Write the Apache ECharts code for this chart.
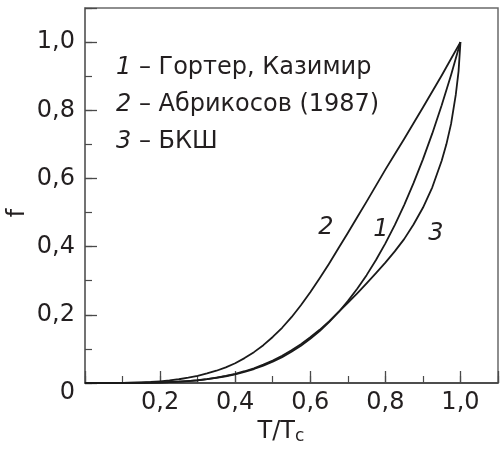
<!DOCTYPE html>
<html>
<head>
<meta charset="utf-8">
<script src="https://cdn.jsdelivr.net/npm/echarts@6/dist/echarts.min.js"></script>
<style>
  html, body { margin: 0; padding: 0; background: #ffffff; }
  #chart { width: 501px; height: 450px; }
</style>
</head>
<body>
<div id="chart"></div>
<script>
// Reduced temperature T/Tc, sampled every 0.025
const tValues = [0, 0.025, 0.05, 0.075, 0.1, 0.125, 0.15, 0.175, 0.2, 0.225,
                 0.25, 0.275, 0.3, 0.325, 0.35, 0.375, 0.4, 0.425, 0.45, 0.475,
                 0.5, 0.525, 0.55, 0.575, 0.6, 0.625, 0.65, 0.675, 0.7, 0.725,
                 0.75, 0.775, 0.8, 0.825, 0.85, 0.875, 0.9, 0.925, 0.95, 0.975, 1.0];

// 1 – Gorter–Casimir model
const gorterCasimir = [0, 0, 0, 0, 0.0001, 0.0002, 0.0005, 0.0009, 0.0016, 0.0026,
                       0.0039, 0.0057, 0.0081, 0.0112, 0.0150, 0.0198, 0.0256, 0.0326, 0.0410, 0.0509,
                       0.0625, 0.0760, 0.0915, 0.1093, 0.1296, 0.1526, 0.1785, 0.2076, 0.2401, 0.2763,
                       0.3164, 0.3607, 0.4096, 0.4632, 0.5220, 0.5862, 0.6561, 0.7321, 0.8145, 0.9037, 1.0];

// 2 – Abrikosov (1987)
const abrikosov = [0, 0, 0, 0.0001, 0.0004, 0.0009, 0.0018, 0.0030, 0.0050, 0.0075,
                   0.011, 0.0155, 0.021, 0.028, 0.036, 0.046, 0.058, 0.073, 0.0905, 0.111,
                   0.135, 0.162, 0.193, 0.228, 0.266, 0.307, 0.350, 0.395, 0.440, 0.486,
                   0.532, 0.579, 0.626, 0.671, 0.716, 0.762, 0.808, 0.855, 0.902, 0.951, 1.0];

// 3 – BCS (extra samples close to Tc where the curve turns steeply upward)
const bcsT = [0, 0.1, 0.2, 0.25, 0.3, 0.325, 0.35, 0.375, 0.4, 0.425, 0.45, 0.475,
              0.5, 0.525, 0.55, 0.575, 0.6, 0.625, 0.65, 0.675, 0.7, 0.725,
              0.75, 0.775, 0.8, 0.825, 0.85, 0.875, 0.9, 0.925, 0.95, 0.9625,
              0.975, 0.9875, 0.995, 1.0];
const bcs  = [0, 0.0001, 0.0015, 0.004, 0.008, 0.0115, 0.016, 0.021, 0.027, 0.0345, 0.043, 0.054,
              0.066, 0.080, 0.096, 0.114, 0.134, 0.156, 0.181, 0.208, 0.235, 0.263,
              0.292, 0.322, 0.353, 0.386, 0.422, 0.465, 0.514, 0.574, 0.652, 0.700,
              0.760, 0.845, 0.915, 1.0];

// Legend entries and curve numbers
const legendNums  = ['1', '2', '3'];
const legendTexts = ['Гортер, Казимир', 'Абрикосов (1987)', 'БКШ'];

const FONT = 'DejaVu Sans';
const FS = 24;
const TEXT = '#231f20';
const LINE = '#6a6a6a';

const pairs = (xs, ys) => xs.map((x, i) => [x, ys[i]]);
const fmt = v => v.toFixed(1).replace('.', ',');
const isMajor = v => v > 0 && Math.abs(v * 5 - Math.round(v * 5)) < 1e-6 && v <= 1.0001;

const curveStyle = { color: '#1a1a1a', width: 1.8, join: 'round' };
function curve(name, data) {
  return {
    name, type: 'line', data,
    xAxisIndex: 0, yAxisIndex: 0,
    showSymbol: false, symbol: 'none',
    smooth: false,
    lineStyle: curveStyle,
    silent: true, z: 5
  };
}

const chart = echarts.init(document.getElementById('chart'), null, { renderer: 'canvas' });

const legendGraphics = legendNums.map((n, i) => ({
  type: 'text',
  x: 116, y: 68 + i * 37,
  style: {
    text: '{n|' + n + '} – ' + legendTexts[i],
    font: FS + 'px "' + FONT + '"',
    fill: TEXT, verticalAlign: 'middle',
    rich: { n: { fontStyle: 'italic', fontFamily: FONT, fontSize: FS, fill: TEXT } }
  }
}));

const curveNumbers = [
  { n: '2', x: 326, y: 228 },
  { n: '1', x: 381, y: 230 },
  { n: '3', x: 436, y: 234 }
].map(o => ({
  type: 'text', x: o.x, y: o.y,
  style: {
    text: o.n, fill: TEXT, align: 'center', verticalAlign: 'middle',
    font: 'italic ' + FS + 'px "' + FONT + '"'
  }
}));

chart.setOption({
  animation: false,
  backgroundColor: '#ffffff',
  grid: {
    left: 85, right: -4, top: 8, bottom: 67,
    show: true, borderColor: LINE, borderWidth: 1.5, backgroundColor: 'transparent'
  },
  xAxis: [
    {
      type: 'value', min: 0, max: 1.1, interval: 0.2,
      axisLine: { show: true, lineStyle: { color: '#3a3a3a', width: 1.5 } },
      axisTick: { show: true, inside: true, length: 12, lineStyle: { color: '#4a4a4a', width: 1.3 } },
      splitLine: { show: false },
      axisLabel: {
        margin: 8, color: TEXT, fontFamily: FONT, fontSize: FS,
        formatter: v => (isMajor(v) ? fmt(v) : '')
      }
    },
    {
      type: 'value', min: 0, max: 1.1, interval: 0.1, position: 'bottom',
      axisLine: { show: false },
      axisTick: { show: true, inside: true, length: 7, lineStyle: { color: '#4a4a4a', width: 1.2 } },
      splitLine: { show: false },
      axisLabel: { show: false }
    }
  ],
  yAxis: [
    {
      type: 'value', min: 0, max: 1.1, interval: 0.2,
      axisLine: { show: true, lineStyle: { color: LINE, width: 1.5 } },
      axisTick: { show: true, inside: true, length: 12, lineStyle: { color: '#4a4a4a', width: 1.3 } },
      splitLine: { show: false },
      axisLabel: {
        margin: 10, color: TEXT, fontFamily: FONT, fontSize: FS,
        formatter: v => (isMajor(v) ? fmt(v) : '')
      }
    },
    {
      type: 'value', min: 0, max: 1.1, interval: 0.1, position: 'left',
      axisLine: { show: false },
      axisTick: { show: true, inside: true, length: 7, lineStyle: { color: '#4a4a4a', width: 1.2 } },
      splitLine: { show: false },
      axisLabel: { show: false }
    }
  ],
  series: [
    curve('Гортер, Казимир', pairs(tValues, gorterCasimir)),
    curve('Абрикосов (1987)', pairs(tValues, abrikosov)),
    curve('БКШ', pairs(bcsT, bcs))
  ],
  graphic: [
    ...legendGraphics,
    ...curveNumbers,
    // shared origin label
    {
      type: 'text', x: 75, y: 393,
      style: { text: '0', fill: TEXT, align: 'right', verticalAlign: 'middle', font: FS + 'px "' + FONT + '"' }
    },
    // axis titles
    {
      type: 'text', x: 281, y: 432,
      style: {
        text: 'T/T{s|c}', fill: TEXT, align: 'center', verticalAlign: 'middle',
        font: FS + 'px "' + FONT + '"',
        rich: { s: { fontFamily: FONT, fontSize: 17, fill: TEXT, padding: [10, 0, 0, 0] } }
      }
    },
    {
      type: 'text', x: 18, y: 213, rotation: Math.PI / 2,
      style: { text: 'f', fill: TEXT, align: 'center', verticalAlign: 'middle', font: FS + 'px "' + FONT + '"' }
    }
  ]
});
</script>
</body>
</html>
